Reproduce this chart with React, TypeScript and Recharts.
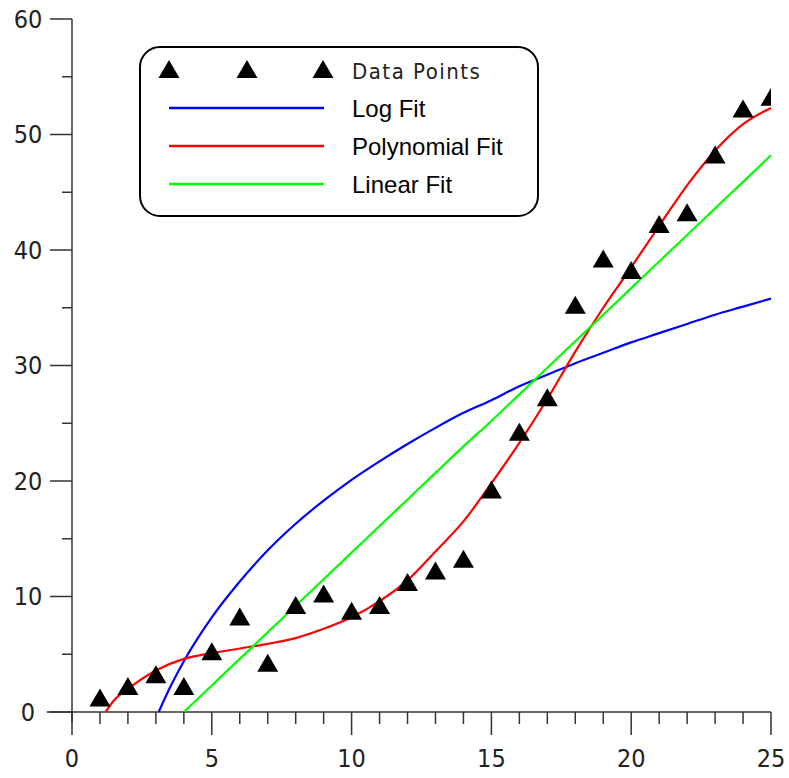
import { ComposedChart, Line, Scatter, XAxis, YAxis, ReferenceLine, Legend } from "recharts"

// measured points
const pointX = [1, 2, 3, 4, 5, 6, 7, 8, 9, 10, 11, 12, 13, 14, 15, 16, 17, 18, 19, 20, 21, 22, 23, 24, 25]
const pointY = [1, 2, 3, 2, 5, 8, 4, 9, 10, 8.5, 9, 11, 12, 13, 19, 24, 27, 35, 39, 38, 42, 43, 48, 52, 53]

// fitted curves
const logX = [3.1, 3.5, 4, 4.5, 5, 6, 7, 8, 9, 10, 11, 12, 13, 14, 15, 16, 17, 18, 19, 20, 21, 22, 23, 24, 25]
const logY = [0, 2.1, 4.4, 6.4, 8.2, 11.3, 14.0, 16.3, 18.3, 20.1, 21.7, 23.2, 24.6, 25.9, 27.0, 28.2, 29.2, 30.2, 31.1, 32.0, 32.8, 33.6, 34.4, 35.1, 35.8]

const polyX = [1.2, 1.5, 2, 3, 4, 5, 6, 7, 8, 9, 10, 11, 12, 13, 14, 15, 16, 17, 18, 19, 20, 21, 22, 23, 24, 25]
const polyY = [0, 1.0, 2.0, 3.6, 4.6, 5.1, 5.5, 5.9, 6.4, 7.2, 8.2, 9.6, 11.4, 13.9, 16.5, 19.8, 23.3, 27.1, 31.2, 35.0, 38.5, 42.1, 45.6, 48.6, 50.9, 52.3]

const linX = [4, 5, 6, 7, 8, 9, 10, 11, 12, 13, 14, 15, 16, 17, 18, 19, 20, 21, 22, 23, 24, 25]
const linY = [0, 2.3, 4.6, 6.9, 9.2, 11.5, 13.8, 16.1, 18.4, 20.7, 23.0, 25.2, 27.5, 29.8, 32.1, 34.4, 36.7, 39.0, 41.3, 43.6, 45.9, 48.2]

const xTicks = [0, 1, 2, 3, 4, 5, 6, 7, 8, 9, 10, 11, 12, 13, 14, 15, 16, 17, 18, 19, 20, 21, 22, 23, 24, 25]
const yTicks = [0, 5, 10, 15, 20, 25, 30, 35, 40, 45, 50, 55, 60]

const toRows = (xs: number[], ys: number[]) => xs.map((x, i) => ({ x, y: ys[i] }))

const points = toRows(pointX, pointY)
const logFit = toRows(logX, logY)
const polyFit = toRows(polyX, polyY)
const linFit = toRows(linX, linY)

const AXIS = "#333"
const tickFont = "'DejaVu Sans ExtraLight', 'DejaVu Sans Condensed', sans-serif"

const Triangle = (props: any) => {
  const { cx, cy } = props
  const w = 21
  const h = 18
  return (
    <path
      d={`M${cx},${cy - (2 * h) / 3} L${cx + w / 2},${cy + h / 3} L${cx - w / 2},${cy + h / 3} Z`}
      fill="#000"
    />
  )
}

const XTick = (props: any) => {
  const { x, y, payload } = props
  const major = payload.value % 5 === 0
  return (
    <g>
      <line x1={x} x2={x} y1={y} y2={y + (major ? 23 : 12)} stroke={AXIS} strokeWidth={1.5} />
      {major && (
        <text x={x} y={y + 46} textAnchor="middle" dominantBaseline="central" fontSize={25} fill="#222" fontFamily={tickFont}>
          {payload.value}
        </text>
      )}
    </g>
  )
}

const YTick = (props: any) => {
  const { x, y, payload } = props
  const major = payload.value % 10 === 0
  return (
    <g>
      <line x1={x - (major ? 22 : 10)} x2={x} y1={y} y2={y} stroke={AXIS} strokeWidth={1.5} />
      {major && (
        <text x={28} y={y} textAnchor="middle" dominantBaseline="central" fontSize={25} fill="#222" fontFamily={tickFont}>
          {payload.value}
        </text>
      )}
    </g>
  )
}

const legendLines = [
  { label: "Log Fit", color: "#0000ff", y: 62 },
  { label: "Polynomial Fit", color: "#ff0000", y: 100 },
  { label: "Linear Fit", color: "#00ff00", y: 138 },
]

const LegendBox = () => (
  <svg width={402} height={174}>
    <rect x={1} y={1} width={398} height={169} rx={20} ry={20} fill="#fff" stroke="#000" strokeWidth={2} />
    {[30, 108, 184].map((cx) => (
      <Triangle key={cx} cx={cx} cy={26} />
    ))}
    <text x={213} y={25} dominantBaseline="central" fontSize={22} fill="#222" fontFamily={tickFont} letterSpacing={1.5}>
      Data Points
    </text>
    {legendLines.map((l) => (
      <g key={l.label}>
        <line x1={30} x2={185} y1={l.y} y2={l.y} stroke={l.color} strokeWidth={2.5} />
        <text x={213} y={l.y} dominantBaseline="central" fontSize={24} fill="#000" fontFamily="'Liberation Sans', Arial, sans-serif">
          {l.label}
        </text>
      </g>
    ))}
  </svg>
)

export default function App() {
  return (
    <div style={{ position: "absolute", left: 0, top: 0, background: "#fff" }}>
      <ComposedChart width={789} height={778} margin={{ top: 19, right: 18, bottom: 0, left: 12 }}>
        <XAxis
          type="number"
          dataKey="x"
          domain={[0, 25]}
          ticks={xTicks}
          interval={0}
          axisLine={false}
          tickLine={false}
          tickSize={0}
          tickMargin={0}
          height={66}
          tick={<XTick />}
          allowDataOverflow
        />
        <YAxis
          type="number"
          dataKey="y"
          domain={[0, 60]}
          ticks={yTicks}
          interval={0}
          axisLine={false}
          tickLine={false}
          tickSize={0}
          tickMargin={0}
          width={60}
          tick={<YTick />}
          allowDataOverflow
        />
        <ReferenceLine segment={[{ x: -0.9, y: 0 }, { x: 25, y: 0 }]} stroke={AXIS} strokeWidth={1.5} ifOverflow="visible" />
        <ReferenceLine segment={[{ x: 0, y: -0.9 }, { x: 0, y: 60 }]} stroke={AXIS} strokeWidth={1.5} ifOverflow="visible" />
        <Line data={logFit} dataKey="y" type="monotone" stroke="#0000ff" strokeWidth={2.2} dot={false} isAnimationActive={false} />
        <Line data={polyFit} dataKey="y" type="monotone" stroke="#ff0000" strokeWidth={2.2} dot={false} isAnimationActive={false} />
        <Line data={linFit} dataKey="y" type="monotone" stroke="#00ff00" strokeWidth={2.2} dot={false} isAnimationActive={false} />
        <Scatter data={points} dataKey="y" shape={Triangle} isAnimationActive={false} />
        <Legend
          layout="horizontal"
          align="center"
          verticalAlign="middle"
          content={LegendBox}
          wrapperStyle={{ position: "absolute", left: 139, top: 46, width: 402, height: 174 }}
        />
      </ComposedChart>
    </div>
  )
}
